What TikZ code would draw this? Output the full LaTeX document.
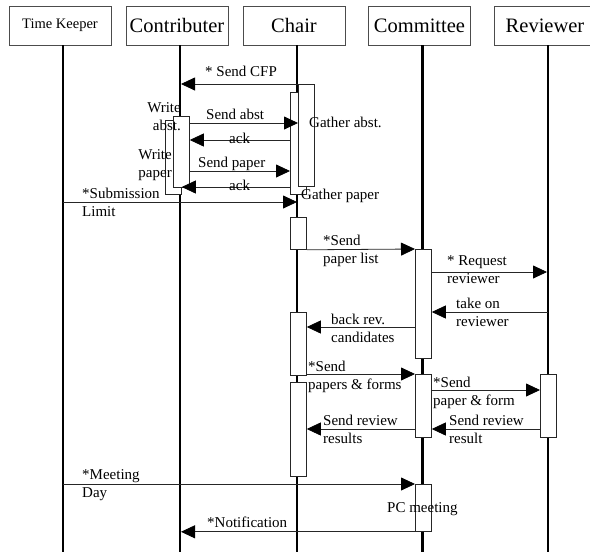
\documentclass[tikz,border=0pt]{standalone}
\usepackage{fontspec}
\setmainfont{Liberation Serif}
\usetikzlibrary{arrows.meta}
\newcommand\actbox[4]{\node[act,minimum height={#4-#3}] (#1) at (#2,#3) {};}
\begin{document}
\begin{tikzpicture}[x=1pt,y=-1pt,
    actor/.style={draw=black!70,line width=0.8pt,minimum width=102pt,minimum height=39pt,inner sep=0pt,font=\fontsize{20.5}{24}\selectfont},
    life/.style={line width=2.2pt},
    act/.style={draw=black!85,fill=white,line width=0.8pt,minimum width=16pt,inner sep=0pt,anchor=north west},
    msg/.style={draw=black!85,line width=0.8pt,-{Triangle[length=14pt,width=13pt,color=black]}},
    lbl/.style={font=\fontsize{15}{18}\selectfont,inner sep=0pt,anchor=base west,align=left}]
  \useasboundingbox (0,0) rectangle (590,552);
  \node[actor,font=\fontsize{14.5}{17}\selectfont] (tk) at (60,25.5) {Time Keeper};
  \node[actor] (con) at (177,25.5) {Contributer};
  \node[actor] (chair) at (294,25.5) {Chair};
  \node[actor] (com) at (419.5,25.5) {Committee};
  \node[actor] (rev) at (545,25.5) {Reviewer};
  \foreach \a in {tk,con,chair,com,rev}{
    \coordinate (\a l) at ([xshift=3pt]\a.south);
    \draw[life] (\a l) -- (\a l |- 0,552);
  }
  \actbox{wpap}{165}{120}{194}
  \actbox{wabs}{173}{116}{187}
  \actbox{gpap}{290}{92}{194}
  \actbox{gabs}{298}{84}{186}
  \actbox{chsend}{290}{217}{249}
  \actbox{chrev}{290}{312}{375}
  \actbox{chres}{290}{382}{476}
  \actbox{cmlist}{415}{249}{358}
  \actbox{cmform}{415}{374}{437}
  \actbox{cmmeet}{415}{484}{531}
  \actbox{rvform}{540}{374}{437}
  \draw[msg,shorten >=1pt] (gabs.north east) -- (conl |- gabs.north);
  \draw[msg] (wabs.east |- 0,123) -- (gabs.west |- 0,123);
  \draw[msg] (gpap.west |- 0,140) -- (wabs.east |- 0,140);
  \draw[msg] (wabs.east |- 0,171) -- (gpap.west |- 0,171);
  \draw[msg] (gpap.west |- 0,187) -- (wpap.east |- 0,187);
  \draw[msg] (tkl |- 0,202) -- (chairl |- 0,202);
  \draw[msg] (chsend.south east) -- (cmlist.north west);
  \draw[msg,shorten >=1pt] (cmlist.east |- 0,272) -- (revl |- 0,272);
  \draw[msg] (revl |- 0,312) -- (cmlist.east |- 0,312);
  \draw[msg] (cmlist.west |- 0,327) -- (chrev.east |- 0,327);
  \draw[msg] (chrev.east |- 0,374) -- (cmform.north west);
  \draw[msg] (cmform.east |- 0,390) -- (rvform.west |- 0,390);
  \draw[msg] (rvform.west |- 0,429) -- (cmform.east |- 0,429);
  \draw[msg] (cmform.west |- 0,429) -- (chres.east |- 0,429);
  \draw[msg] (tkl |- 0,484) -- (cmmeet.north west);
  \draw[msg,shorten >=1pt] (cmmeet.south west) -- (conl |- cmmeet.south);
  \node[lbl] (cfp) at (205,76) {* Send CFP};
  \node[lbl,anchor=base east,align=right] (wrabs) at (181,130) {Write\\abst.};
  \node[lbl,anchor=base east,align=right] (wrpap) at (172,177) {Write\\paper};
  \node[lbl] (sabs) at (206,119) {Send abst};
  \node[lbl] (ack1) at (229,143) {ack};
  \node[lbl] (spap) at (198,167) {Send paper};
  \node[lbl] (ack2) at (229,190) {ack};
  \node[lbl] (gaabs) at (309,127) {Gather abst.};
  \node[lbl] (gapap) at (301,199) {Gather paper};
  \node[lbl] (subm) at (82,216) {*Submission\\Limit};
  \node[lbl] (plist) at (323,263) {*Send\\paper list};
  \node[lbl] (reqrev) at (447,283) {* Request\\reviewer};
  \node[lbl] (takeon) at (456,326) {take on\\reviewer};
  \node[lbl] (backrev) at (331,342) {back rev.\\candidates};
  \node[lbl] (spforms) at (308,389) {*Send\\papers \& forms};
  \node[lbl] (spform) at (433,405) {*Send\\paper \& form};
  \node[lbl] (rresult) at (449,443) {Send review\\result};
  \node[lbl] (rresults) at (323,443) {Send review\\results};
  \node[lbl] (meet) at (82,497) {*Meeting\\Day};
  \node[lbl] (pcmeet) at (387,512) {PC meeting};
  \node[lbl] (notif) at (207,527) {*Notification};
\end{tikzpicture}
\end{document}
